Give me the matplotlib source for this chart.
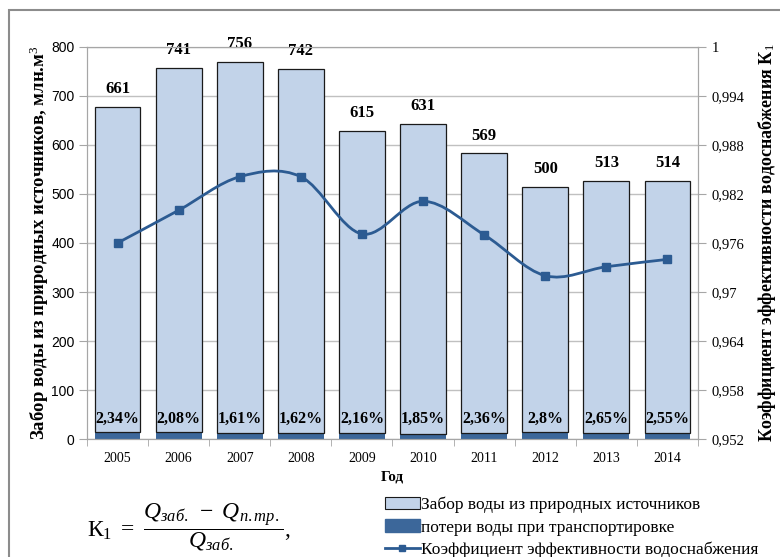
import numpy as np
import matplotlib
matplotlib.use("Agg")
import matplotlib.pyplot as plt
from matplotlib.patches import Patch, Rectangle, PathPatch
from matplotlib.lines import Line2D
from matplotlib.path import Path

plt.rcParams['font.family'] = ['Liberation Serif', 'DejaVu Serif']
plt.rcParams['mathtext.fontset'] = 'custom'
plt.rcParams['mathtext.rm'] = 'Liberation Serif'
plt.rcParams['mathtext.it'] = 'Liberation Serif:italic'

# данные
years = ['2005', '2006', '2007', '2008', '2009', '2010', '2011', '2012', '2013', '2014']
intake = [661, 741, 756, 742, 615, 631, 569, 500, 513, 514]
losses = [15.5, 15.4, 12.2, 12.0, 13.3, 11.7, 13.4, 14.0, 13.6, 13.1]
loss_pct = ['2,34%', '2,08%', '1,61%', '1,62%', '2,16%', '1,85%', '2,36%', '2,8%', '2,65%', '2,55%']
k1 = [0.9760, 0.9800, 0.9841, 0.9841, 0.9771, 0.9811, 0.9770, 0.9720, 0.9731, 0.9740]

light = '#c2d3e9'
dark = '#3c679a'
line_c = '#2c5b92'
grey = '#a6a6a6'

fig = plt.figure(figsize=(7.8, 5.57), dpi=100)
ax = fig.add_axes([0.1115, 0.2113, 0.7834, 0.7049])

x = np.arange(len(years))
ax.bar(x, losses, width=0.75, color=dark, zorder=2)
ax.bar(x, intake, bottom=losses, width=0.75, color=light, edgecolor='#1a1a1a',
       linewidth=0.9, zorder=2)

for i in range(len(years)):
    ax.text(x[i], losses[i] + intake[i] + 20, str(intake[i]), ha='center', va='bottom',
            fontsize=12, fontweight='bold')
    ax.text(x[i], 41, loss_pct[i], ha='center', va='center', fontsize=11.5, fontweight='bold')

ax.set_xlim(-0.5, len(years) - 0.5)
ax.set_ylim(0, 800)
ax.set_yticks(np.arange(0, 801, 100))
ax.tick_params(axis='y', labelsize=10, length=6, color=grey, pad=3)
for lab in ax.get_yticklabels():
    lab.set_family('Liberation Sans')
ax.set_xticks(x)
ax.set_xticklabels(years, fontsize=10)
ax.set_xticks(np.arange(-0.5, len(years)), minor=True)
ax.tick_params(axis='x', which='major', length=0, pad=9)
ax.tick_params(axis='x', which='minor', length=5, color=grey)
ax.yaxis.grid(True, color='#c0c0c0', linewidth=1, zorder=0)
ax.set_axisbelow(True)
for s in ax.spines.values():
    s.set_color(grey)

ax.set_xlabel('Год', fontsize=11, fontweight='bold', labelpad=4)
ax.set_ylabel('Забор воды из природных источников, млн.м$^3$', fontsize=13.5,
              fontweight='bold', labelpad=0)

# правая ось
ax2 = ax.twinx()
ax2.set_ylim(0.952, 1.0)
rt = np.arange(0.952, 1.0001, 0.006)
ax2.set_yticks(rt)
ax2.set_yticklabels([('%.3f' % v).rstrip('0').rstrip('.').replace('.', ',') for v in rt],
                    fontsize=10.5)
ax2.tick_params(axis='y', length=6, color=grey, pad=4)
for s in ax2.spines.values():
    s.set_color(grey)
ax2.set_ylabel('Коэффициент эффективности водоснабжения К$_1$', fontsize=13,
               fontweight='bold', labelpad=8)

# сглаженная линия (как в Excel)
pts = np.column_stack([x, k1])
ext = np.vstack([pts[0], pts, pts[-1]])
verts = [tuple(pts[0])]
codes = [Path.MOVETO]
for i in range(len(pts) - 1):
    p0, p1, p2, p3 = ext[i], ext[i + 1], ext[i + 2], ext[i + 3]
    c1 = p1 + (p2 - p0) / 6
    c2 = p2 - (p3 - p1) / 6
    verts += [tuple(c1), tuple(c2), tuple(p2)]
    codes += [Path.CURVE4] * 3
ax2.add_patch(PathPatch(Path(verts, codes), facecolor='none', edgecolor=line_c,
                        linewidth=2, zorder=3))
ax2.plot(x, k1, linestyle='none', marker='s', markersize=6, color=line_c, zorder=4)

# формула
fig.text(0.112, 0.054,
         r'$\mathrm{К}_1\ =\ \dfrac{Q_{заб.}\ -\ Q_{п.тр.}}{Q_{заб.}},$',
         fontsize=17, va='center', ha='left')

handles = [Patch(facecolor=light, edgecolor='#1a1a1a', linewidth=0.8),
           Patch(facecolor=dark, edgecolor=dark),
           Line2D([0], [0], color=line_c, linewidth=2, marker='s', markersize=5)]
labels = ['Забор воды из природных источников', 'потери воды при транспортировке',
          'Коэффициент эффективности водоснабжения']
fig.legend(handles, labels, loc='lower left', bbox_to_anchor=(0.478, -0.024),
           frameon=False, fontsize=12.5, handlelength=2.0, handleheight=0.7,
           handletextpad=0.1, labelspacing=0.35, borderpad=0.2)

# рамка
fig.patches.append(Rectangle((9 / 780, -0.1), 1.2, 1.1 - 10 / 557, transform=fig.transFigure,
                             fill=False, edgecolor='#8c8c8c', linewidth=1.5))

fig.savefig('out.png', dpi=100)
